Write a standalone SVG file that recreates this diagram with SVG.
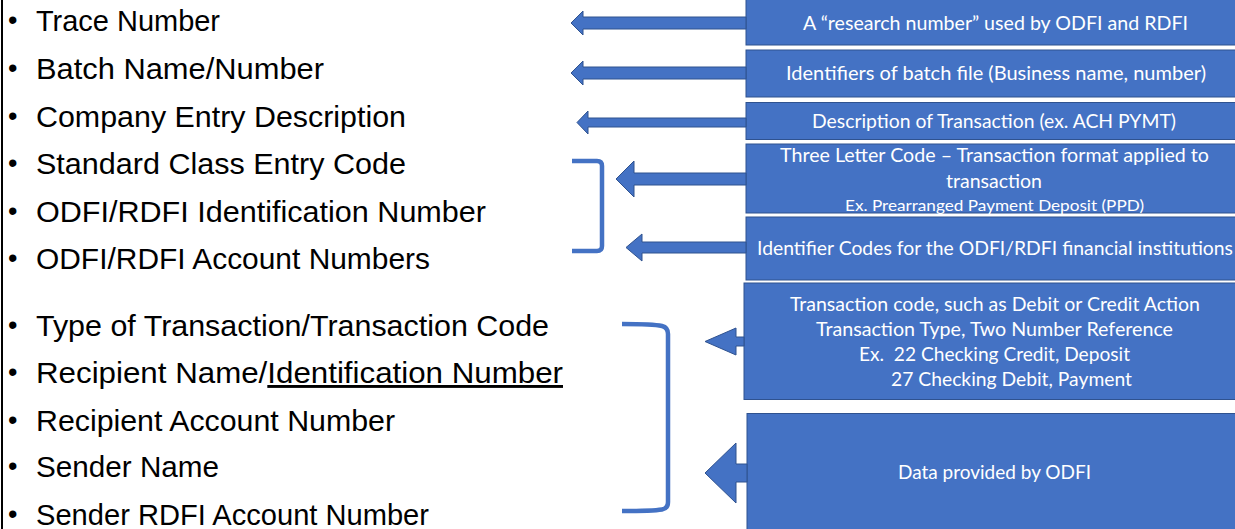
<svg xmlns="http://www.w3.org/2000/svg" width="1235" height="529" viewBox="0 0 1235 529">
  <style>
    .item { font-family: "Liberation Sans", Arial, sans-serif; font-size: 29px; fill: #000; }
    .bullet { font-family: "Liberation Sans", Arial, sans-serif; font-size: 27px; fill: #000; }
    .box { fill: #4472C4; stroke: #2F528F; stroke-width: 1; }
    .lbl { font-family: Lato, "Liberation Sans", sans-serif; font-size: 19px; fill: #fff; text-anchor: middle; white-space: pre; }
    .lbl-sm { font-family: Lato, "Liberation Sans", sans-serif; font-size: 15px; fill: #fff; text-anchor: middle; }
    .arrow { fill: #4472C4; stroke: #2F528F; stroke-width: 1; stroke-linejoin: miter; }
    .brace { fill: none; stroke: #4472C4; stroke-width: 4.5; stroke-linecap: butt; }
  </style>

  <!-- left margin rule -->
  <rect x="1" y="0" width="2" height="529" fill="#000"/>

  <!-- record field list -->
  <g id="field-list">
    <g id="field-trace-number">
      <text class="bullet" x="8" y="29">•</text>
      <text class="item" x="36" y="31" textLength="184" lengthAdjust="spacingAndGlyphs">Trace Number</text>
    </g>
    <g id="field-batch-name">
      <text class="bullet" x="8" y="77">•</text>
      <text class="item" x="36" y="79" textLength="288" lengthAdjust="spacingAndGlyphs">Batch Name/Number</text>
    </g>
    <g id="field-company-entry">
      <text class="bullet" x="8" y="125">•</text>
      <text class="item" x="36" y="127" textLength="370" lengthAdjust="spacingAndGlyphs">Company Entry Description</text>
    </g>
    <g id="field-sec-code">
      <text class="bullet" x="8" y="172">•</text>
      <text class="item" x="36" y="174" textLength="370" lengthAdjust="spacingAndGlyphs">Standard Class Entry Code</text>
    </g>
    <g id="field-odfi-rdfi-id">
      <text class="bullet" x="8" y="220">•</text>
      <text class="item" x="36" y="222" textLength="450" lengthAdjust="spacingAndGlyphs">ODFI/RDFI Identification Number</text>
    </g>
    <g id="field-odfi-rdfi-accounts">
      <text class="bullet" x="8" y="267">•</text>
      <text class="item" x="36" y="269" textLength="394" lengthAdjust="spacingAndGlyphs">ODFI/RDFI Account Numbers</text>
    </g>
    <g id="field-transaction-code">
      <text class="bullet" x="8" y="334">•</text>
      <text class="item" x="36" y="336" textLength="513" lengthAdjust="spacingAndGlyphs">Type of Transaction/Transaction Code</text>
    </g>
    <g id="field-recipient-name">
      <text class="bullet" x="8" y="381">•</text>
      <text class="item" x="36" y="383" textLength="527" lengthAdjust="spacingAndGlyphs">Recipient Name/<tspan style="text-decoration:underline">Identification Number</tspan></text>
    </g>
    <g id="field-recipient-account">
      <text class="bullet" x="8" y="429">•</text>
      <text class="item" x="36" y="431" textLength="359" lengthAdjust="spacingAndGlyphs">Recipient Account Number</text>
    </g>
    <g id="field-sender-name">
      <text class="bullet" x="8" y="475">•</text>
      <text class="item" x="36" y="477" textLength="183" lengthAdjust="spacingAndGlyphs">Sender Name</text>
    </g>
    <g id="field-sender-account">
      <text class="bullet" x="8" y="523">•</text>
      <text class="item" x="36" y="525" textLength="393" lengthAdjust="spacingAndGlyphs">Sender RDFI Account Number</text>
    </g>
  </g>

  <!-- explanation boxes -->
  <g id="note-trace">
    <rect class="box" x="746" y="-1" width="490" height="46"/>
    <text class="lbl" x="995.5" y="30" textLength="385" lengthAdjust="spacingAndGlyphs">A “research number” used by ODFI and RDFI</text>
  </g>
  <g id="note-batch">
    <rect class="box" x="746" y="50" width="490" height="47"/>
    <text class="lbl" x="996" y="80" textLength="420" lengthAdjust="spacingAndGlyphs">Identifiers of batch file (Business name, number)</text>
  </g>
  <g id="note-description">
    <rect class="box" x="746" y="102.5" width="490" height="37"/>
    <text class="lbl" x="994" y="128" textLength="364" lengthAdjust="spacingAndGlyphs">Description of Transaction (ex. ACH PYMT)</text>
  </g>
  <g id="note-sec-code">
    <rect class="box" x="746" y="144" width="490" height="69"/>
    <text class="lbl" x="994.5" y="162" textLength="429" lengthAdjust="spacingAndGlyphs">Three Letter Code – Transaction format applied to</text>
    <text class="lbl" x="994" y="188" textLength="96" lengthAdjust="spacingAndGlyphs">transaction</text>
    <text class="lbl-sm" x="994.5" y="211" textLength="299" lengthAdjust="spacingAndGlyphs">Ex. Prearranged Payment Deposit (PPD)</text>
  </g>
  <g id="note-institutions">
    <rect class="box" x="746" y="217" width="490" height="63"/>
    <text class="lbl" x="995" y="255" textLength="476" lengthAdjust="spacingAndGlyphs">Identifier Codes for the ODFI/RDFI financial institutions</text>
  </g>
  <g id="note-transaction-code">
    <rect class="box" x="744" y="283" width="492" height="116.5"/>
    <text class="lbl" x="995" y="311" textLength="410" lengthAdjust="spacingAndGlyphs">Transaction code, such as Debit or Credit Action</text>
    <text class="lbl" x="994.5" y="336" textLength="357" lengthAdjust="spacingAndGlyphs">Transaction Type, Two Number Reference</text>
    <text class="lbl" x="994.5" y="361" textLength="271" lengthAdjust="spacingAndGlyphs">Ex.  22 Checking Credit, Deposit</text>
    <text class="lbl" x="1011.5" y="386" textLength="241" lengthAdjust="spacingAndGlyphs">27 Checking Debit, Payment</text>
  </g>
  <g id="note-odfi-data">
    <rect class="box" x="747" y="413.5" width="489" height="120"/>
    <text class="lbl" x="994.5" y="479" textLength="193" lengthAdjust="spacingAndGlyphs">Data provided by ODFI</text>
  </g>

  <!-- connectors: arrows from notes to fields, brackets grouping fields -->
  <g id="connectors">
    <polygon class="arrow" points="746,17 583,17 583,11 571,23 583,35 583,29 746,29"/>
    <polygon class="arrow" points="746,67 583,67 583,61 571,73 583,85 583,79 746,79"/>
    <polygon class="arrow" points="746,118 588,118 588,111 577,122.5 588,134 588,127 746,127"/>
    <polygon class="arrow" points="746,173 634,173 634,161 616,179 634,197 634,185 746,185"/>
    <polygon class="arrow" points="746,242 642,242 642,234 626,247.5 642,261 642,253 746,253"/>
    <polygon class="arrow" points="744,337 736,337 736,328 705,341.5 736,355 736,346 744,346"/>
    <polygon class="arrow" points="747,464 736,464 736,443 705,473 736,503 736,482 747,482"/>

    <path class="brace" d="M572,161 L597,161 Q602,161 602,166 L602,246 Q602,251 597,251 L572,251"/>
    <path class="brace" d="M622,324 Q653,324 662,326 Q668,327.5 668,334 L668,502 Q668,508.5 662,509.5 Q653,511 622,511"/>
  </g>
</svg>
